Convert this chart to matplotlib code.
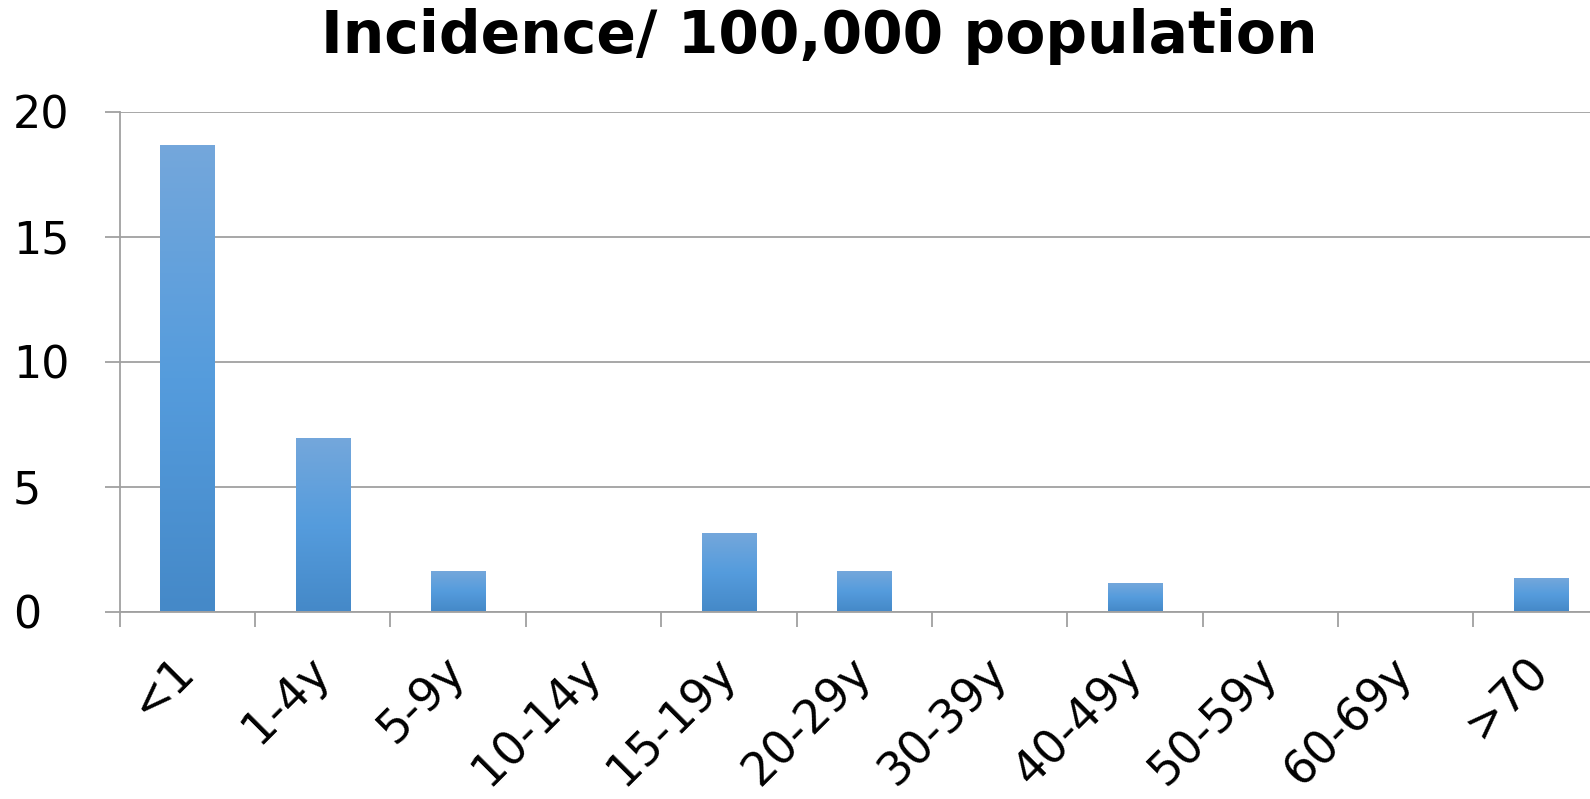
import matplotlib
matplotlib.use("Agg")
import matplotlib.pyplot as plt
import numpy as np
from matplotlib.colors import LinearSegmentedColormap

# Age groups and incidence per 100,000 population
age_groups = ["<1", "1-4y", "5-9y", "10-14y", "15-19y", "20-29y",
              "30-39y", "40-49y", "50-59y", "60-69y", ">70"]
incidence = [18.6, 6.9, 1.6, 0, 3.1, 1.6, 0, 1.1, 0, 0, 1.3]
y_ticks = [0, 5, 10, 15, 20]
title = "Incidence/ 100,000 population"

DPI = 100
fig = plt.figure(figsize=(15.9, 7.99), dpi=DPI)
# The plot area runs slightly past the right edge of the figure
ax = fig.add_axes([119.7 / 1590, 1 - 611.5 / 799, 1489 / 1590, 500 / 799])

grid_color = "#a0a0a0"
x = np.arange(len(age_groups))
bars = ax.bar(x, incidence, width=0.40, facecolor="none", edgecolor="none", zorder=3)

# Vertical gradient fill for each bar (lighter at the top)
cmap = LinearSegmentedColormap.from_list(
    "bar_grad", ["#4589c8", "#559cdd", "#74a7db"])
grad = np.linspace(0, 1, 256).reshape(-1, 1)
for b in bars:
    h = b.get_height()
    if h <= 0:
        continue
    bx, bw = b.get_x(), b.get_width()
    ax.imshow(grad, cmap=cmap, origin="lower", aspect="auto",
              extent=[bx, bx + bw, 0, h], zorder=3, interpolation="bilinear")

ax.set_xlim(-0.5, len(age_groups) - 0.5)
ax.set_ylim(0, 20)

# Gridlines and axes
ax.set_yticks(y_ticks)
ax.yaxis.grid(True, color=grid_color, linewidth=1.3, zorder=1)
ax.set_axisbelow(True)
for s in ["top", "right", "bottom"]:
    ax.spines[s].set_visible(False)
ax.spines["left"].set_color(grid_color)
ax.spines["left"].set_linewidth(1.3)
ax.axhline(0, color=grid_color, linewidth=1.3, zorder=2, clip_on=False)

ax.tick_params(axis="y", length=15 * 72 / DPI, width=1.3, color=grid_color,
               labelsize=32, pad=66)
for lbl in ax.get_yticklabels():
    lbl.set_horizontalalignment("left")

# Tick marks at category boundaries, labels at category centres
ax.set_xticks(np.arange(-0.5, len(age_groups)), minor=True)
ax.set_xticks(x)
ax.set_xticklabels(age_groups, rotation=45, ha="right", va="center",
                   rotation_mode="anchor")
ax.tick_params(axis="x", which="minor", length=15 * 72 / DPI, width=1.3,
               color=grid_color)
ax.tick_params(axis="x", which="major", length=0, labelsize=33, pad=38)

fig.text(819 / 1590, 1 - 53 / 799, title, ha="center", va="baseline",
         fontsize=42, fontweight="bold")

fig.savefig("out.png", dpi=DPI, facecolor="white")
